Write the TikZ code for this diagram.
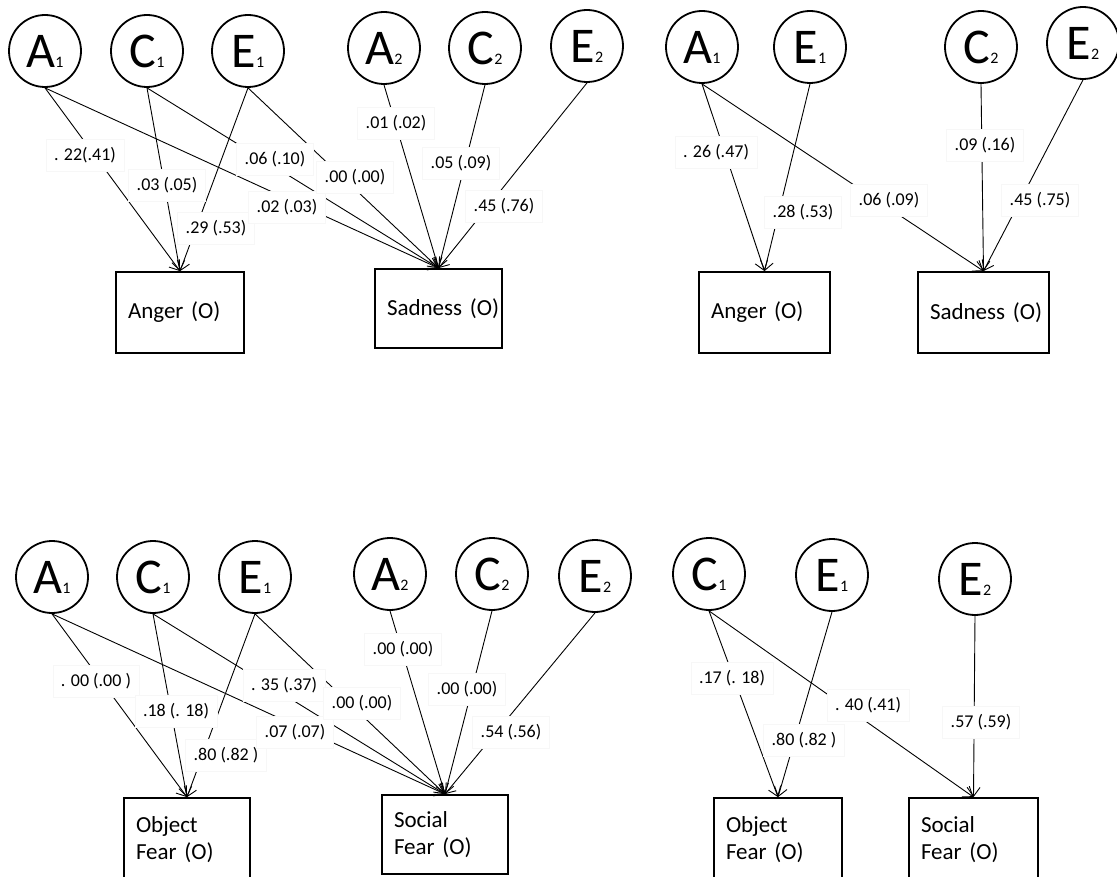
\documentclass[tikz,border=0pt]{standalone}
\usepackage{fontspec}
\setmainfont{Carlito}
\usetikzlibrary{arrows.meta}
% latent variable name: big letter followed by a small index on the baseline
\newcommand\latentname[2]{{\fontsize{50}{50}\selectfont #1}{\fontsize{16}{16}\selectfont #2}}

\begin{document}
\begin{tikzpicture}[x=1pt,y=-1pt,
  latent/.style={circle,draw,line width=1.8pt,minimum size=72pt,inner sep=0pt},
  observed/.style={draw,line width=1.8pt,inner xsep=12pt,inner ysep=0pt,align=left,
    font=\fontsize{23}{27}\selectfont},
  pathline/.style={line width=0.9pt,-{Straight Barb[length=9pt,width=13pt]}},
  coef/.style={fill=white,draw=black!3,line width=0.5pt,inner xsep=8pt,inner ysep=8pt,
    font=\fontsize{18}{18}\selectfont}]
\useasboundingbox (0,0) rectangle (1117,877);
\clip (0,0) rectangle (1117,877);

% ---------------- top left: Anger and Sadness, full model ----------------
\node[latent] (a-A1) at (45,51)  {\latentname{A}{1}};
\node[latent] (a-C1) at (147,51) {\latentname{C}{1}};
\node[latent] (a-E1) at (248,51) {\latentname{E}{1}};
\node[latent] (a-A2) at (384,48) {\latentname{A}{2}};
\node[latent] (a-C2) at (485,48) {\latentname{C}{2}};
\node[latent] (a-E2) at (587,46) {\latentname{E}{2}};
\node[observed,text width=104pt,minimum height=81pt] (a-ang) at (180,312.5) {Anger (O)};
\node[observed,text width=103pt,minimum height=79pt] (a-sad) at (438.5,308.5) {\mbox{Sadness (O)}};

\draw[pathline] (a-A1.south) -- (a-ang.north);
\draw[pathline] (a-C1.south) -- (a-ang.north);
\draw[pathline] (a-E1.south) -- (a-ang.north);
\draw[pathline] (a-A1.south) -- (a-sad.north);
\draw[pathline] (a-C1.south) -- (a-sad.north);
\draw[pathline] (a-E1.south) -- (a-sad.north);
\draw[pathline] (a-A2.south) -- (a-sad.north);
\draw[pathline] (a-C2.south) -- (a-sad.north);
\draw[pathline] (a-E2.south) -- (a-sad.north);

\node[coef] (a-l1) at (85,155)  {. 22(.41)};
\node[coef] (a-l2) at (167,185) {.03 (.05)};
\node[coef] (a-l3) at (216,228) {.29 (.53)};
\node[coef] (a-l4) at (287,207) {.02 (.03)};
\node[coef] (a-l5) at (275,159) {.06 (.10)};
\node[coef] (a-l6) at (355,177) {.00 (.00)};
\node[coef] (a-l7) at (396,123) {.01 (.02)};
\node[coef] (a-l8) at (461,163) {.05 (.09)};
\node[coef] (a-l9) at (504,206) {.45 (.76)};

% ---------------- top right: Anger and Sadness, reduced model ----------------
\node[latent] (b-A1) at (702,47)  {\latentname{A}{1}};
\node[latent] (b-E1) at (810,47)  {\latentname{E}{1}};
\node[latent] (b-C2) at (981,47)  {\latentname{C}{2}};
\node[latent] (b-E2) at (1083,43) {\latentname{E}{2}};
\node[observed,text width=107pt,minimum height=81pt] (b-ang) at (764.5,312.5) {Anger (O)};
\node[observed,text width=107pt,minimum height=81pt] (b-sad) at (983.5,312.5) {\mbox{Sadness (O)}};

\draw[pathline] (b-A1.south) -- (b-ang.north);
\draw[pathline] (b-E1.south) -- (b-ang.north);
\draw[pathline] (b-A1.south) -- (b-sad.north);
\draw[pathline] (b-C2.south) -- (b-sad.north);
\draw[pathline] (b-E2.south) -- (b-sad.north);

\node[coef] (b-l1) at (716,152)  {. 26 (.47)};
\node[coef] (b-l2) at (803,212)  {.28 (.53)};
\node[coef] (b-l3) at (889,200)  {.06 (.09)};
\node[coef] (b-l4) at (985,145)  {.09 (.16)};
\node[coef] (b-l5) at (1040,200) {.45 (.75)};

% ---------------- bottom left: Object and Social Fear, full model ----------------
\node[latent] (c-A1) at (52,577)  {\latentname{A}{1}};
\node[latent] (c-C1) at (153,577) {\latentname{C}{1}};
\node[latent] (c-E1) at (255,577) {\latentname{E}{1}};
\node[latent] (c-A2) at (390,574) {\latentname{A}{2}};
\node[latent] (c-C2) at (492,574) {\latentname{C}{2}};
\node[latent] (c-E2) at (595,576) {\latentname{E}{2}};
\node[observed,text width=102pt,minimum height=84pt] (c-obj) at (187,840) {Object\\Fear (O)};
\node[observed,text width=102pt,minimum height=79pt] (c-soc) at (445,834.5) {Social\\Fear (O)};

\draw[pathline] (c-A1.south) -- (c-obj.north);
\draw[pathline] (c-C1.south) -- (c-obj.north);
\draw[pathline] (c-E1.south) -- (c-obj.north);
\draw[pathline] (c-A1.south) -- (c-soc.north);
\draw[pathline] (c-C1.south) -- (c-soc.north);
\draw[pathline] (c-E1.south) -- (c-soc.north);
\draw[pathline] (c-A2.south) -- (c-soc.north);
\draw[pathline] (c-C2.south) -- (c-soc.north);
\draw[pathline] (c-E2.south) -- (c-soc.north);

\node[coef] (c-l1) at (96,681)  {. 00 (.00 )};
\node[coef] (c-l2) at (176,711) {.18 (. 18)};
\node[coef] (c-l3) at (226,755) {.80 (.82 )};
\node[coef] (c-l4) at (295,732) {.07 (.07)};
\node[coef] (c-l5) at (284,685) {. 35 (.37)};
\node[coef] (c-l6) at (362,703) {.00 (.00)};
\node[coef] (c-l7) at (403,649) {.00 (.00)};
\node[coef] (c-l8) at (467,689) {.00 (.00)};
\node[coef] (c-l9) at (511,732) {.54 (.56)};

% ---------------- bottom right: Object and Social Fear, reduced model ----------------
\node[latent] (d-C1) at (709,574) {\latentname{C}{1}};
\node[latent] (d-E1) at (832,575) {\latentname{E}{1}};
\node[latent] (d-E2) at (975,579) {\latentname{E}{2}};
\node[observed,text width=104pt,minimum height=84pt] (d-obj) at (778,840) {Object\\Fear (O)};
\node[observed,text width=105pt,minimum height=84pt] (d-soc) at (973.5,840) {Social\\Fear (O)};

\draw[pathline] (d-C1.south) -- (d-obj.north);
\draw[pathline] (d-E1.south) -- (d-obj.north);
\draw[pathline] (d-C1.south) -- (d-soc.north);
\draw[pathline] (d-E2.south) -- (d-soc.north);

\node[coef] (d-l1) at (732,678) {.17 (. 18)};
\node[coef] (d-l2) at (804,740) {.80 (.82 )};
\node[coef] (d-l3) at (868,705) {. 40 (.41)};
\node[coef] (d-l4) at (981,722) {.57 (.59)};
\end{tikzpicture}
\end{document}
